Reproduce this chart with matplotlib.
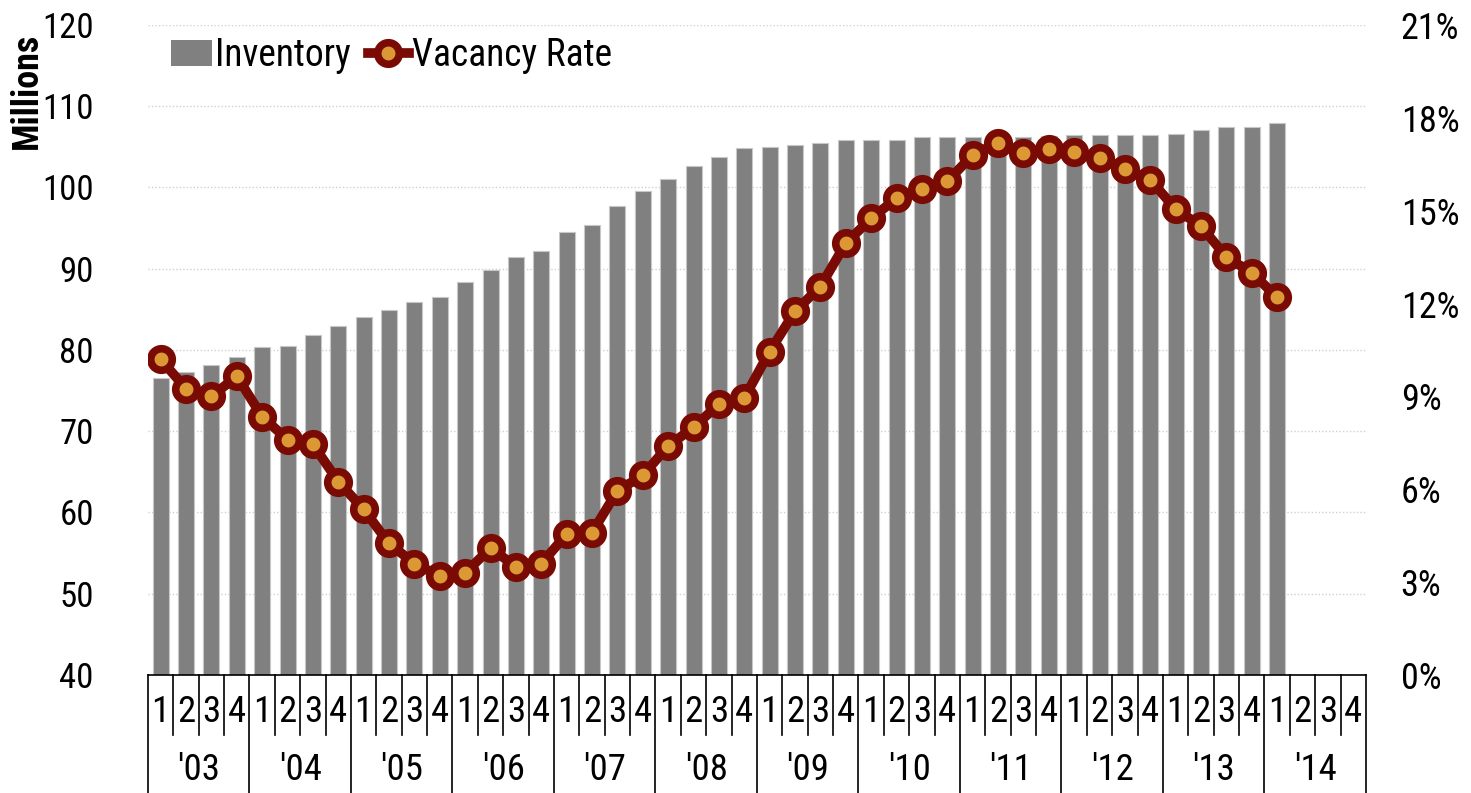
import numpy as np
import matplotlib
matplotlib.use("Agg")
import matplotlib.pyplot as plt
import matplotlib.transforms as mtransforms
from matplotlib.lines import Line2D
from matplotlib.patches import Patch


# ======================
# data
# ======================
years = ["'03", "'04", "'05", "'06", "'07", "'08", "'09", "'10", "'11", "'12", "'13", "'14"]
quarters = ["1", "2", "3", "4"]

# inventory, millions (2003Q1 - 2014Q1)
inventory = [
    76.6, 77.3, 78.2, 79.1,
    80.4, 80.5, 81.8, 82.9,
    84.0, 84.9, 85.9, 86.5,
    88.4, 89.9, 91.4, 92.2,
    94.5, 95.4, 97.7, 99.6,
    101.1, 102.6, 103.7, 104.9,
    105.0, 105.2, 105.5, 105.9,
    105.9, 105.9, 106.25, 106.25,
    106.25, 106.3, 106.25, 106.3,
    106.4, 106.5, 106.5, 106.5,
    106.6, 107.1, 107.4, 107.4,
    107.9,
]

# vacancy rate, %
vacancy = [
    10.2, 9.25, 9.0, 9.65,
    8.35, 7.6, 7.45, 6.25,
    5.35, 4.25, 3.6, 3.2,
    3.3, 4.1, 3.5, 3.6,
    4.55, 4.6, 5.95, 6.45,
    7.4, 8.0, 8.75, 8.95,
    10.45, 11.75, 12.55, 13.95,
    14.75, 15.4, 15.7, 15.95,
    16.8, 17.2, 16.85, 17.0,
    16.9, 16.7, 16.35, 16.0,
    15.05, 14.5, 13.5, 13.0,
    12.2,
]

left_ticks = [40, 50, 60, 70, 80, 90, 100, 110, 120]
right_ticks = [0, 3, 6, 9, 12, 15, 18, 21]


# ======================
# style
# ======================
plt.rcParams["font.family"] = ["Roboto Condensed", "Liberation Sans Narrow", "Roboto", "DejaVu Sans"]

bar_color = "#808080"
line_color = "#7a0b04"
dot_color = "#db9835"
grid_color = "#d0d0d0"

n_slots = len(years) * len(quarters)
x = np.arange(len(inventory))


# ======================
# figure
# ======================
fig = plt.figure(figsize=(14.71, 7.93), dpi=100)
ax = fig.add_axes([0.1006, 0.1488, 0.8280, 0.8197])

ax.bar(x, inventory, width=0.63, color=bar_color,
       edgecolor="#c8c8c8", linewidth=0.8, zorder=2)

ax.set_xlim(-0.5, n_slots - 0.5)
ax.set_ylim(40, 120)
ax.set_yticks(left_ticks)
ax.set_yticklabels([str(t) for t in left_ticks], fontsize=25)
ax.tick_params(axis="y", length=0, pad=39)
ax.set_xticks([])
ax.set_axisbelow(True)
ax.yaxis.grid(True, linestyle=(0, (1, 1.5)), color=grid_color, linewidth=1.0)

for side in ["top", "right", "left"]:
    ax.spines[side].set_visible(False)
ax.spines["bottom"].set_color("black")
ax.spines["bottom"].set_linewidth(1.2)


# ======================
# vacancy line
# ======================
ax2 = ax.twinx()
ax2.plot(x, vacancy, color=line_color, linewidth=7,
         marker="o", markersize=15.5, markerfacecolor=dot_color,
         markeredgecolor=line_color, markeredgewidth=5.5, zorder=3)
ax2.set_ylim(0, 21)
ax2.set_yticks(right_ticks)
ax2.set_yticklabels([f"{t}%" for t in right_ticks], fontsize=26)
ax2.tick_params(axis="y", length=0, pad=25)
for side in ["top", "right", "left", "bottom"]:
    ax2.spines[side].set_visible(False)


# ======================
# category axis (quarters / years)
# ======================
trans = mtransforms.blended_transform_factory(ax.transData, ax.transAxes)

for i in range(n_slots):
    ax.text(i, -0.057, quarters[i % 4], transform=trans,
            ha="center", va="center", fontsize=26.5)

for k, yr in enumerate(years):
    ax.text(k * 4 + 1.5, -0.146, yr, transform=trans,
            ha="center", va="center", fontsize=26.5)

for i in range(n_slots + 1):
    edge = i - 0.5
    bottom = -0.185 if i % 4 == 0 else -0.093
    ax.plot([edge, edge], [0, bottom], transform=trans,
            color="black", linewidth=1.2, clip_on=False)


# ======================
# labels / legend
# ======================
fig.text(0.0180, 0.885, "Millions", rotation=90, ha="center", va="center",
         fontsize=26, fontweight="bold")

handles = [
    Patch(facecolor=bar_color, edgecolor="none"),
    Line2D([0], [0], color=line_color, linewidth=7, marker="o", markersize=15.5,
           markerfacecolor=dot_color, markeredgecolor=line_color, markeredgewidth=5.5),
]
fig.legend(handles, ["Inventory", "Vacancy Rate"], loc="center left",
           bbox_to_anchor=(0.1162, 0.930), ncol=2, frameon=False,
           fontsize=27, handlelength=1.1, handletextpad=0.08,
           columnspacing=0.45, borderaxespad=0, borderpad=0)

fig.savefig("out.png", dpi=100)
plt.close(fig)
